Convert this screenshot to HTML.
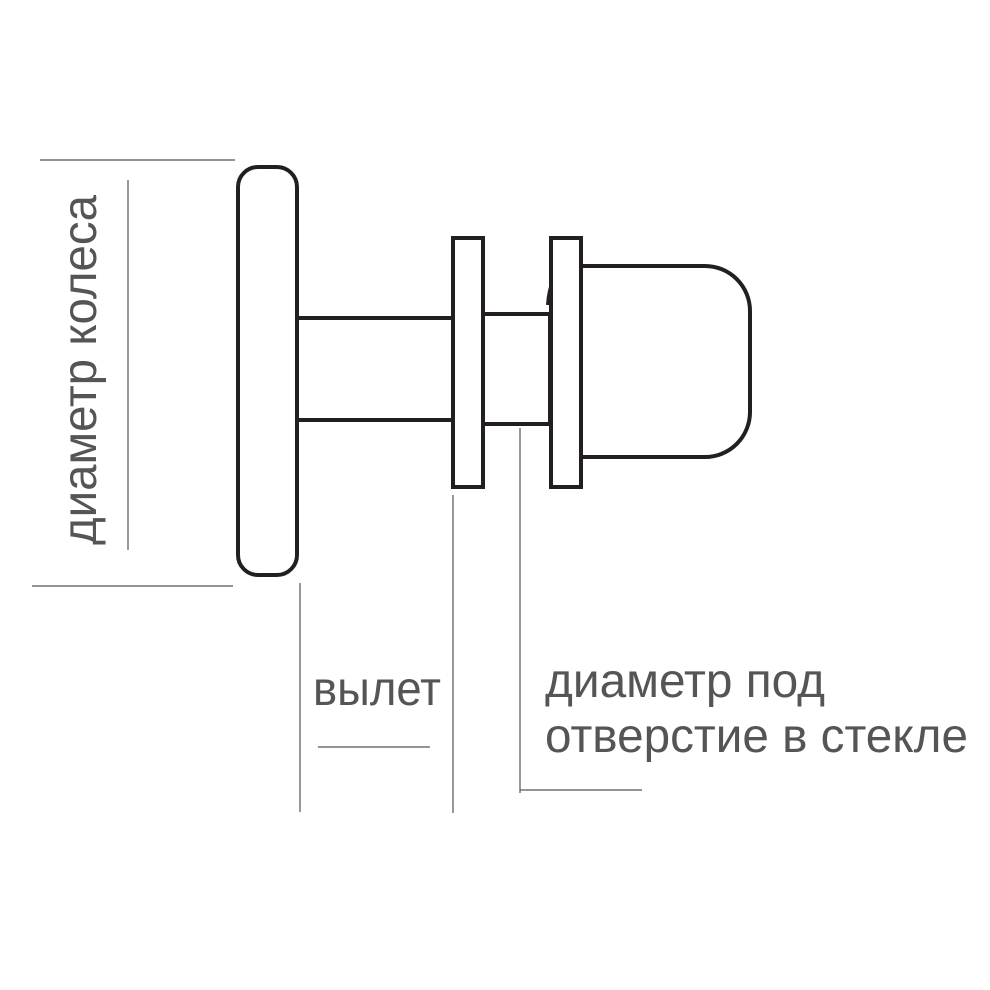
<!DOCTYPE html>
<html><head><meta charset="utf-8"><style>html,body{margin:0;padding:0;background:#fff}svg{display:block}</style></head>
<body>
<svg width="990" height="990" viewBox="0 0 990 990" xmlns="http://www.w3.org/2000/svg">
<g stroke="#555" stroke-width="1.2" fill="none">
<line x1="40" y1="160" x2="235" y2="160"/>
<line x1="32" y1="586" x2="233" y2="586"/>
<line x1="128" y1="180" x2="128" y2="550"/>
<line x1="300" y1="583" x2="300" y2="812"/>
<line x1="453" y1="495" x2="453" y2="813"/>
<line x1="520" y1="428" x2="520" y2="793"/>
<line x1="318" y1="747" x2="430" y2="747"/>
<line x1="520" y1="790" x2="642" y2="790"/>
</g>
<g stroke="#231f20" stroke-width="4" fill="#fff">
<path d="M560 266 H705 A45 45 0 0 1 750 311 V412 A45 45 0 0 1 705 457 H560 Z"/>
<path d="M548 305 Q550 275 565 268" />
<rect x="238" y="167" width="59" height="408" rx="20"/>
<rect x="297" y="318" width="156" height="102" />
<rect x="483" y="314" width="67" height="110"/>
<rect x="453" y="238" width="30" height="249"/>
<rect x="551" y="238" width="30" height="249"/>
</g>
<g fill="#555" font-family="'Liberation Sans Narrow','Liberation Sans',sans-serif" font-size="48">
<text x="0" y="0" transform="translate(96,545) rotate(-90)" textLength="350" lengthAdjust="spacingAndGlyphs">диаметр колеса</text>
<text x="313" y="705" textLength="128" lengthAdjust="spacingAndGlyphs">вылет</text>
<text x="545" y="697" textLength="280" lengthAdjust="spacingAndGlyphs">диаметр под</text>
<text x="545" y="752" textLength="423" lengthAdjust="spacingAndGlyphs">отверстие в стекле</text>
</g>
</svg>
</body></html>
